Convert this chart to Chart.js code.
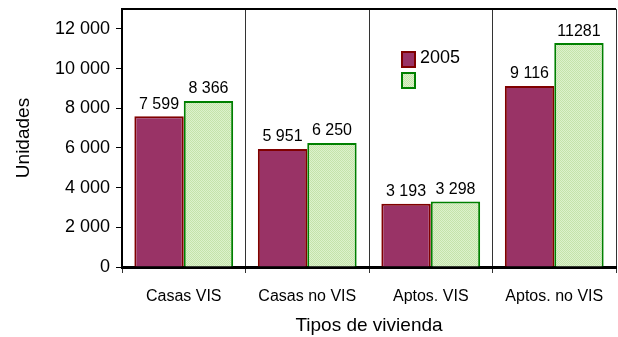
<!DOCTYPE html>
<html lang="es">
<head>
  <meta charset="UTF-8" />
  <title>Tipos de vivienda</title>
  <script src="https://cdn.jsdelivr.net/npm/chart.js"></script>
  <style>
    html, body { margin: 0; padding: 0; background: #fff; }
    .chart-wrapper { width: 618px; height: 337px; }
  </style>
</head>
<body>
<div class="chart-wrapper">
  <canvas id="viviendaChart"></canvas>
</div>

<script>
  // Datos del gráfico
  const categorias = ['Casas VIS', 'Casas no VIS', 'Aptos. VIS', 'Aptos. no VIS'];
  const serie2005 = [7599, 5951, 3193, 9116];
  const serie2006 = [8366, 6250, 3298, 11281];
  const etiquetas2005 = ['7 599', '5 951', '3 193', '9 116'];
  const etiquetas2006 = ['8 366', '6 250', '3 298', '11281'];
  const nombresSeries = ['2005', ''];
  const marcasY = [0, 2000, 4000, 6000, 8000, 10000, 12000];

  const fuente = "'Liberation Sans', Arial, sans-serif";

  // trama punteada para las barras verdes
  function tramaVerde() {
    const c = document.createElement('canvas');
    c.width = 2; c.height = 2;
    const g = c.getContext('2d');
    g.fillStyle = '#dcf2cc';
    g.fillRect(0, 0, 2, 2);
    g.fillStyle = '#c4e3aa';
    g.fillRect(0, 0, 1, 1);
    g.fillRect(1, 1, 1, 1);
    return g.createPattern(c, 'repeat');
  }

  function miles(v) {
    return String(v).replace(/\B(?=(\d{3})+(?!\d))/g, ' ');
  }

  // etiquetas de valor encima de cada barra
  const valoresPlugin = {
    id: 'valores',
    afterDatasetsDraw(chart) {
      const ctx = chart.ctx;
      ctx.save();
      ctx.font = '16px ' + fuente;
      ctx.fillStyle = '#000';
      ctx.textAlign = 'center';
      ctx.textBaseline = 'bottom';
      chart.data.datasets.forEach((ds, i) => {
        chart.getDatasetMeta(i).data.forEach((bar, j) => {
          ctx.fillText(ds.etiquetas[j], bar.x, bar.y - 4);
        });
      });
      ctx.restore();
    }
  };

  // marco superior y leyenda dentro del área
  const marcoPlugin = {
    id: 'marco',
    afterDraw(chart) {
      const ctx = chart.ctx;
      const a = chart.chartArea;
      ctx.save();
      ctx.strokeStyle = '#000';
      ctx.lineWidth = 2;
      ctx.beginPath();
      ctx.moveTo(a.left - 1, a.top);
      ctx.lineTo(a.right, a.top);
      ctx.stroke();

      // leyenda
      let y = 52;
      chart.data.datasets.forEach((ds) => {
        ctx.fillStyle = ds.backgroundColor;
        ctx.fillRect(402, y, 13, 15);
        ctx.strokeStyle = ds.borderColor;
        ctx.lineWidth = 2;
        ctx.strokeRect(402, y, 13, 15);
        ctx.fillStyle = '#000';
        ctx.font = '18px ' + fuente;
        ctx.textBaseline = 'middle';
        ctx.fillText(ds.label, 420, y + 6);
        y += 21;
      });
      ctx.restore();
    }
  };

  const ctx = document.getElementById('viviendaChart').getContext('2d');
  const verde = tramaVerde();

  new Chart(ctx, {
    type: 'bar',
    data: {
      labels: categorias,
      datasets: [{
        label: nombresSeries[0],
        data: serie2005,
        etiquetas: etiquetas2005,
        backgroundColor: '#993366',
        borderColor: '#800000',
        borderWidth: 2,
        borderSkipped: 'bottom'
      }, {
        label: nombresSeries[1],
        data: serie2006,
        etiquetas: etiquetas2006,
        backgroundColor: verde,
        borderColor: '#008000',
        borderWidth: 2,
        borderSkipped: 'bottom'
      }]
    },
    options: {
      responsive: true,
      maintainAspectRatio: false,
      animation: false,
      layout: { padding: { top: 9, right: 2, left: 0, bottom: 0 } },
      plugins: {
        legend: { display: false },
        tooltip: { enabled: false }
      },
      datasets: {
        bar: { categoryPercentage: 0.8, barPercentage: 1.0 }
      },
      scales: {
        x: {
          offset: true,
          grid: {
            offset: true,
            drawOnChartArea: true,
            color: (c) => c.index === categorias.length ? '#999' : '#333',
            lineWidth: 1,
            tickLength: 6
          },
          border: { display: true, color: '#000', width: 3 },
          ticks: {
            color: '#000',
            font: { family: fuente, size: 16 },
            padding: 14,
            maxRotation: 0
          },
          title: {
            display: true,
            text: 'Tipos de vivienda',
            color: '#000',
            font: { family: fuente, size: 19 },
            padding: { top: 0, bottom: 0 }
          },
          afterFit(scale) {
            scale.height = 70;
            scale.paddingLeft = 0;
            scale.paddingRight = 0;
          }
        },
        y: {
          min: 0,
          max: 13000,
          afterBuildTicks(scale) {
            scale.ticks = marcasY.map(v => ({ value: v }));
          },
          grid: {
            drawOnChartArea: false,
            drawTicks: true,
            tickLength: 6,
            color: '#000'
          },
          border: { display: true, color: '#000', width: 2 },
          ticks: {
            color: '#000',
            font: { family: fuente, size: 18 },
            padding: 6,
            callback: (v) => miles(v)
          },
          title: {
            display: true,
            text: 'Unidades',
            color: '#000',
            font: { family: fuente, size: 19 },
            padding: { top: 12, bottom: 4 }
          },
          afterFit(scale) {
            scale.width = 122;
            scale.paddingTop = 0;
            scale.paddingBottom = 0;
          }
        }
      }
    },
    plugins: [valoresPlugin, marcoPlugin]
  });
</script>
</body>
</html>
